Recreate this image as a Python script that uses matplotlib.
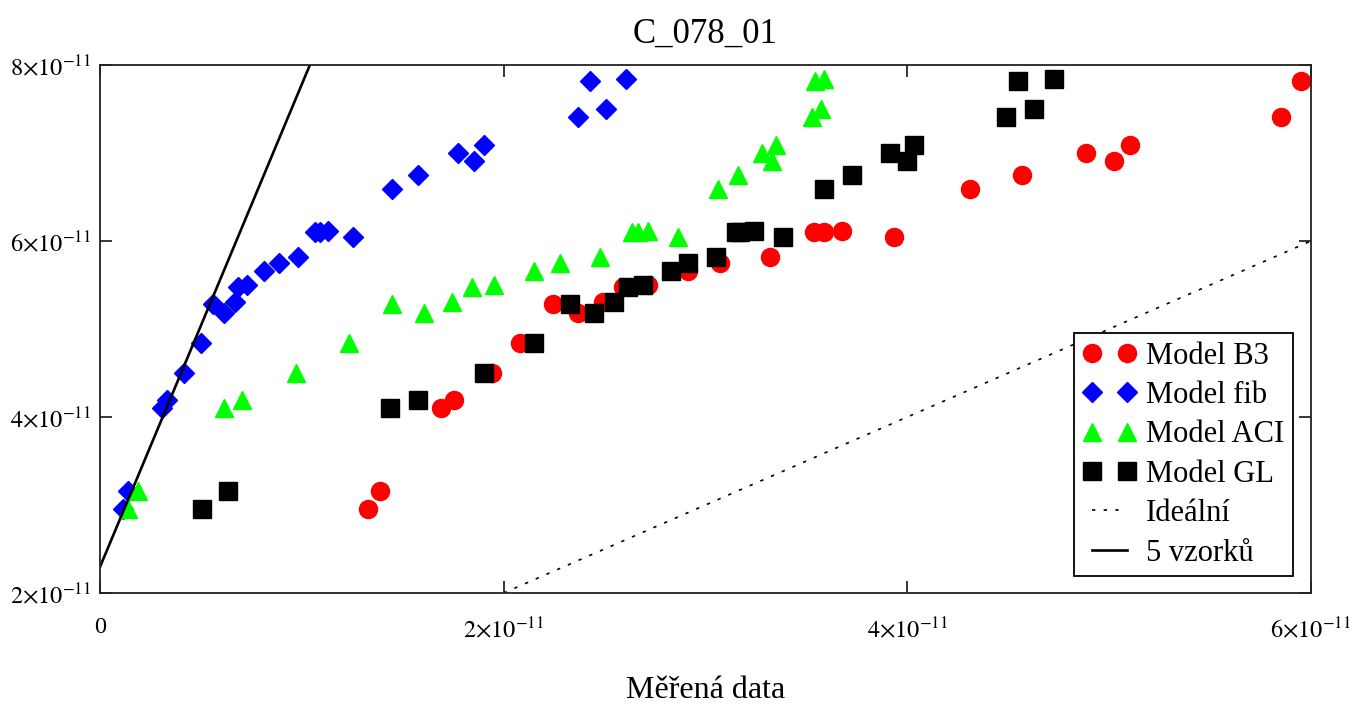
import numpy as np
import matplotlib
matplotlib.use('Agg')
import matplotlib.pyplot as plt
from matplotlib.ticker import FuncFormatter

plt.rcParams['font.family'] = ['Liberation Serif', 'DejaVu Serif']
plt.rcParams['mathtext.fontset'] = 'stix'

# all values in units of 1e-11
y_model = [2.95, 3.16, 4.10, 4.19, 4.50, 4.84, 5.28, 5.18, 5.31, 5.48, 5.50, 5.66, 5.75, 5.82,
           6.10, 6.10, 6.11, 6.05, 6.59, 6.75, 7.00, 6.91, 7.09, 7.41, 7.82, 7.50, 7.84]

x_b3 = [1.328, 1.388, 1.690, 1.754, 1.943, 2.081, 2.245, 2.369, 2.493, 2.592, 2.716, 2.914, 3.072, 3.320,
        3.538, 3.588, 3.677, 3.935, 4.311, 4.569, 4.886, 5.025, 5.104, 5.852, 5.952, np.nan, np.nan]
x_fib = [0.114, 0.139, 0.307, 0.332, 0.416, 0.500, 0.560, 0.614, 0.669, 0.684, 0.728, 0.813, 0.887, 0.981,
         1.065, 1.090, 1.130, 1.254, 1.447, 1.576, 1.774, 1.853, 1.903, 2.369, 2.428, 2.507, 2.607]
x_aci = [0.139, 0.188, 0.614, 0.704, 0.971, 1.234, 1.447, 1.606, 1.744, 1.843, 1.952, 2.151, 2.279, 2.478,
         2.636, 2.666, 2.716, 2.864, 3.063, 3.162, 3.280, 3.330, 3.350, 3.528, 3.543, 3.573, 3.588]
x_gl = [0.505, 0.634, 1.437, 1.576, 1.903, 2.151, 2.329, 2.448, 2.547, 2.616, 2.691, 2.830, 2.914, 3.053,
        3.152, 3.171, 3.241, 3.385, 3.588, 3.726, 3.915, 3.999, 4.034, 4.490, 4.549, 4.628, 4.727]

ideal_x = [2.0, 6.0]
ideal_y = [2.0, 6.0]
fit_x = [0.0, 1.04]
fit_y = [2.295, 8.0]

s = 1e-11
y = np.array(y_model) * s

fig = plt.figure(figsize=(13.6, 7.05), dpi=100)
ax = fig.add_axes([0.0735, 0.1589, 0.8905, 0.7489])

ax.plot(np.array(x_b3) * s, y, ls='none', marker='o', ms=13, color='#ff0000', label='Model B3')
ax.plot(np.array(x_fib) * s, y, ls='none', marker='D', ms=10.5, color='#0000ff', label='Model fib')
ax.plot(np.array(x_aci) * s, y, ls='none', marker='^', ms=13, color='#00ff00', label='Model ACI')
ax.plot(np.array(x_gl) * s, y, ls='none', marker='s', ms=12.5, color='black', label='Model GL')
ax.plot(np.array(ideal_x) * s, np.array(ideal_y) * s, color='black', lw=1.2, ls=(0, (2, 5)), label='Ideální')
ax.plot(np.array(fit_x) * s, np.array(fit_y) * s, color='black', lw=1.9, label='5 vzorků')

ax.set_xlim(0, 6e-11)
ax.set_ylim(2e-11, 8e-11)
ax.set_xticks([0, 2e-11, 4e-11, 6e-11])
ax.set_yticks([2e-11, 4e-11, 6e-11, 8e-11])


def sci(v, pos):
    if v == 0:
        return '0'
    return r'$%d{\times}10^{-11}$' % round(v / 1e-11)


ax.xaxis.set_major_formatter(FuncFormatter(sci))
ax.yaxis.set_major_formatter(FuncFormatter(sci))
ax.tick_params(direction='in', top=True, right=True, length=8.5, width=1.1, labelsize=17.5)
ax.tick_params(axis='x', pad=17)
ax.tick_params(axis='y', pad=6)
for sp in ax.spines.values():
    sp.set_linewidth(1.3)
    sp.set_color('#222222')

ax.set_title('C_078_01', fontsize=25, pad=16)
ax.set_xlabel('Měřená data', fontsize=23, labelpad=24)

leg = ax.legend(loc='lower right', bbox_to_anchor=(0.985, 0.032), borderaxespad=0, numpoints=2,
                fontsize=22, fancybox=False, framealpha=1, edgecolor='black',
                handlelength=1.75, handletextpad=0.32, labelspacing=0.34, borderpad=0.28)
leg.get_frame().set_linewidth(1.3)

fig.savefig('out.png', dpi=100)
